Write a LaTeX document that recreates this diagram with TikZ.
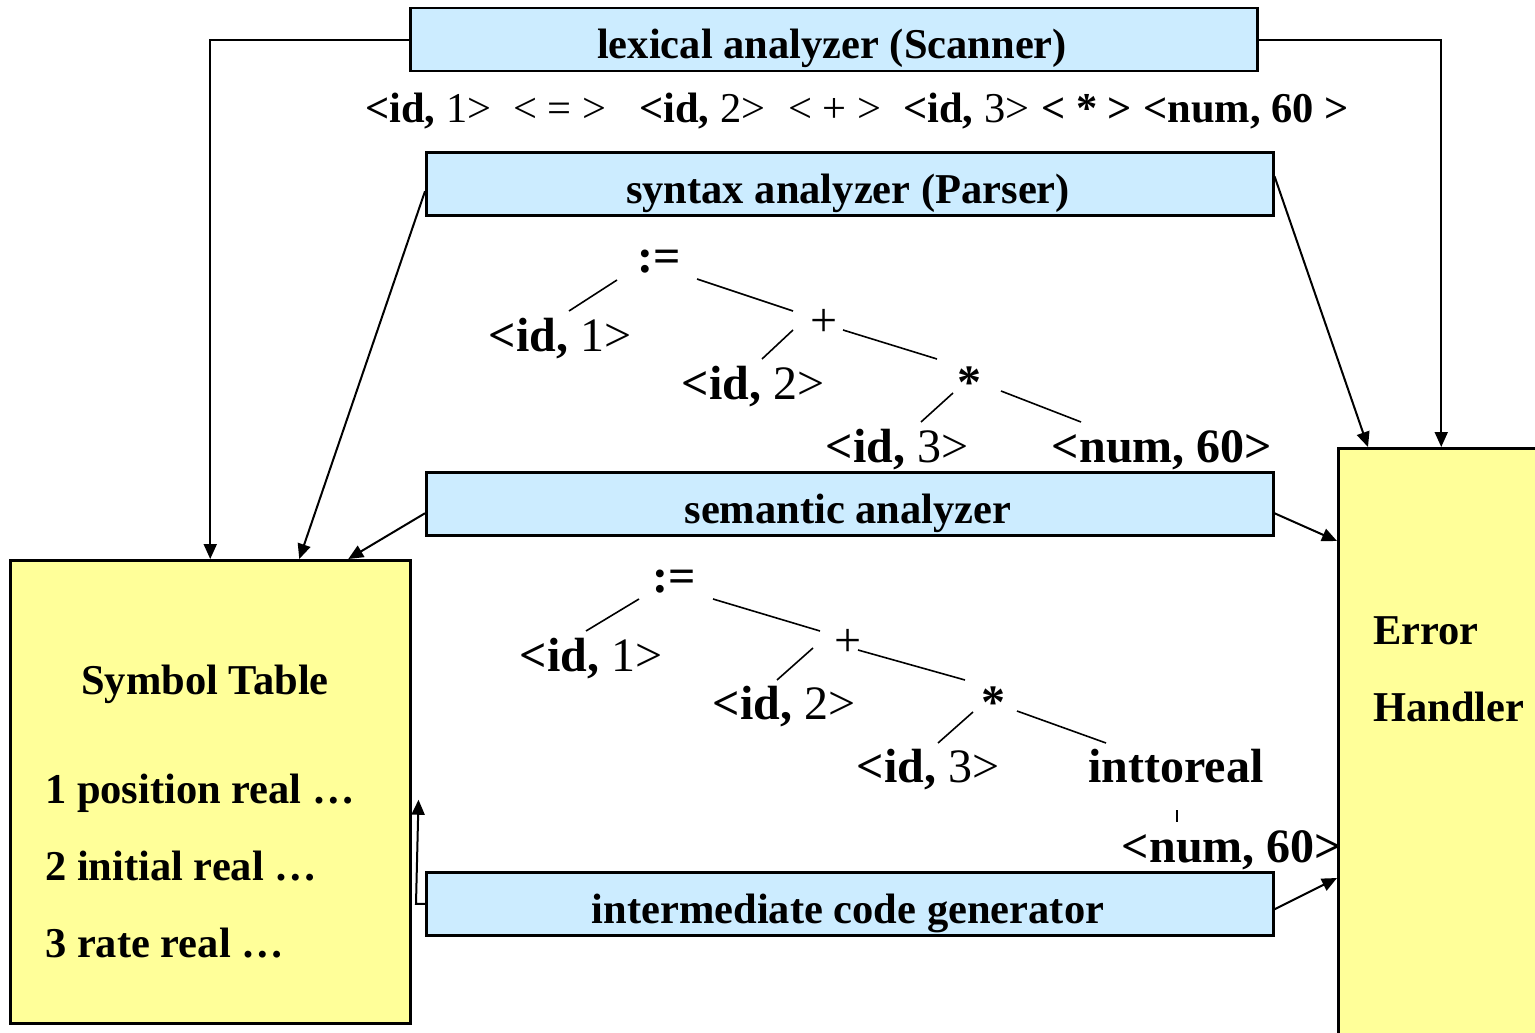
\documentclass[tikz,border=0pt]{standalone}
\usepackage{fontspec}
\setmainfont{Liberation Serif}
\usetikzlibrary{arrows.meta}
\definecolor{stageblue}{HTML}{CCECFF}
\definecolor{storeyellow}{HTML}{FFFF99}
\tikzset{
  stage/.style={draw, line width=2.5pt, fill=stageblue, minimum width=847pt,
    minimum height=63pt, inner sep=0pt, anchor=north west},
  store/.style={draw, line width=2.5pt, fill=storeyellow, inner sep=0pt, anchor=north west},
  lbl/.style={anchor=base, inner sep=0pt, font=\fontsize{42.5}{50}\selectfont\bfseries},
  lblw/.style={lbl, anchor=base west},
  treetxt/.style={anchor=base, inner sep=0pt, font=\fontsize{48}{56}\selectfont\bfseries},
  arr/.style={line width=2pt, -{Triangle[length=15pt,width=13pt]}},
  branch/.style={line width=1.6pt},
}
\newcommand{\idtok}[1]{<id, \mdseries#1>}
\begin{document}
\begin{tikzpicture}[x=1pt,y=-1pt]
\useasboundingbox (0,0) rectangle (1535,1033);
\clip (0,0) rectangle (1535,1033);

% compiler phases
\node[stage] (lex) at (409,7) {};
\node[stage] (syn) at (425,151) {};
\node[stage] (sem) at (425,471) {};
\node[stage] (inter) at (425,871) {};
\node[lbl] (lexlbl) at (832,59) {lexical analyzer (Scanner)};
\node[lbl] (synlbl) at (848,203) {syntax analyzer (Parser)};
\node[lbl] (semlbl) at (848,523) {semantic analyzer};
\node[lbl] (interlbl) at (848,923) {intermediate code generator};

% symbol table and error handler
\node[store, minimum width=400pt, minimum height=463pt] (symtab) at (9,559) {};
\node[store, minimum width=206pt, minimum height=610pt] (error) at (1337,447) {};
\node[lblw] (symhead) at (81,694) {Symbol Table};
\node[lblw] (sym1) at (45,803) {1 position real …};
\node[lblw] (sym2) at (45,880) {2 initial real …};
\node[lblw] (sym3) at (45,957) {3 rate real …};
\node[lblw] (errlbl1) at (1373,644) {Error};
\node[lblw] (errlbl2) at (1373,721) {Handler};

% token stream
\node[lblw] (tok1) at (365,122) {\idtok{1}};
\node[lblw] (tok2) at (513,122) {\mdseries < = >};
\node[lblw] (tok3) at (639,122) {\idtok{2}};
\node[lblw] (tok4) at (788,122) {\mdseries < + >};
\node[lblw] (tok5) at (903,122) {\idtok{3}};
\node[lblw] (tok6) at (1041,122) {< * >};
\node[lblw] (tok7) at (1143,122) {<num, 60 >};

% syntax tree
\node[treetxt] (asg1) at (659,272) {:=};
\node[treetxt] (ida1) at (560,351) {\idtok{1}};
\node[treetxt] (plus1) at (824,336) {\mdseries +};
\node[treetxt] (idb1) at (753,399) {\idtok{2}};
\node[treetxt] (star1) at (969,398) {*};
\node[treetxt] (idc1) at (897,462) {\idtok{3}};
\node[treetxt] (num1) at (1162,462) {<num, 60>};
\draw[branch] (asg1.base) ++(-42,8) -- ++(-48,31);
\draw[branch] (asg1.base) ++(38,7) -- ++(96,32);
\draw[branch] (plus1.base) ++(-31,-6) -- ++(-31,29);
\draw[branch] (plus1.base) ++(19,-6) -- ++(94,29);
\draw[branch] (star1.base) ++(-16,-5) -- ++(-32,29);
\draw[branch] (star1.base) ++(32,-7) -- ++(80,31);

% annotated tree
\node[treetxt] (asg2) at (674,592) {:=};
\node[treetxt] (ida2) at (591,671) {\idtok{1}};
\node[treetxt] (plus2) at (848,656) {\mdseries +};
\node[treetxt] (idb2) at (784,719) {\idtok{2}};
\node[treetxt] (star2) at (993,718) {*};
\node[treetxt] (idc2) at (928,782) {\idtok{3}};
\node[treetxt] (conv2) at (1176,782) {inttoreal};
\node[treetxt] (num2) at (1232,862) {<num, 60>};
\draw[branch] (asg2.base) ++(-35,7) -- ++(-53,32);
\draw[branch] (asg2.base) ++(39,7) -- ++(107,32);
\draw[branch] (plus2.base) ++(-35,-8) -- ++(-36,32);
\draw[branch] (plus2.base) ++(10,-6) -- ++(107,30);
\draw[branch] (star2.base) ++(-20,-6) -- ++(-35,31);
\draw[branch] (star2.base) ++(24,-7) -- ++(89,32);
\draw[branch] (conv2.base) ++(1,28) -- ++(0,12);

% connections to the symbol table
\draw[arr] (lex.west) -| (symtab.north);
\draw[arr] ([yshift=-7.5pt]syn.west) -- ([xshift=89pt]symtab.north);
\draw[arr] ([yshift=-9.5pt]sem.west) -- ([xshift=138pt]symtab.north);
\draw[arr] (inter.west) -- ++(-9,0) -- ([xshift=7pt,yshift=-8pt]symtab.east);

% connections to the error handler
\draw[arr] (lex.east) -| (error.north);
\draw[arr] ([yshift=7.5pt]syn.east) -- ([xshift=31pt]error.north west);
\draw[arr] ([yshift=-9.5pt]sem.east) -- ([yshift=-94pt]error.north west);
\draw[arr] ([yshift=-5.5pt]inter.east) -- ([yshift=-431pt]error.north west);
\end{tikzpicture}
\end{document}
